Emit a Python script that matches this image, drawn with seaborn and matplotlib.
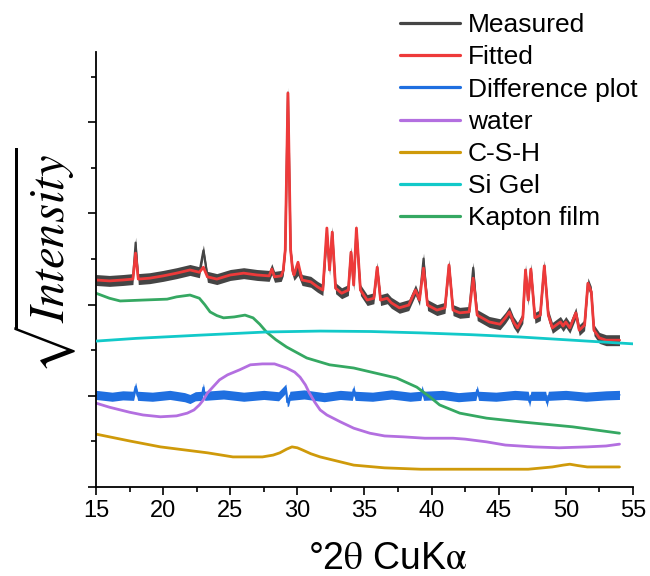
import matplotlib
matplotlib.use("Agg")
import matplotlib.pyplot as plt
import seaborn as sns
import numpy as np

# ---- data: diffraction angle (deg 2theta) and square-root intensity (arb. units) ----
two_theta = [15.0, 16.0, 17.0, 17.75, 17.95, 18.15, 19.0, 20.0, 21.0, 22.0, 22.7, 23.0, 23.3,
             24.0, 25.0, 26.0, 27.0, 27.9, 28.1, 28.3, 28.8, 28.95, 29.1, 29.3, 29.5, 29.65,
             29.75, 30.05, 30.35, 31.0, 31.5, 31.9, 32.2, 32.4, 32.6, 32.85, 33.3, 33.8, 34.0,
             34.2, 34.4, 34.7, 35.2, 35.7, 35.95, 36.2, 36.7, 37.0, 37.6, 38.3, 38.8, 39.1,
             39.4, 39.7, 40.4, 41.0, 41.3, 41.6, 42.1, 42.8, 43.1, 43.4, 44.3, 45.1, 45.5,
             45.8, 46.1, 46.4, 46.8, 47.0, 47.2, 47.4, 47.7, 48.1, 48.4, 48.7, 49.0, 49.6,
             49.8, 50.0, 50.3, 50.75, 51.0, 51.4, 51.65, 51.9, 52.1, 52.5, 53.0, 53.5, 54.0]

fitted = [45.4, 45.2, 45.4, 45.6, 51.3, 45.6, 45.8, 46.3, 46.9, 47.6, 47.1, 48.2, 46.1,
          45.6, 46.5, 46.9, 46.5, 46.3, 47.8, 46.1, 46.3, 47.5, 52.0, 86.4, 52.0, 47.5,
          46.5, 49.3, 45.4, 45.0, 43.9, 43.2, 56.8, 47.6, 55.9, 43.6, 42.5, 43.2, 51.5,
          44.3, 56.8, 43.2, 41.0, 41.4, 48.2, 41.0, 41.4, 40.4, 39.3, 39.9, 43.2, 41.0,
          48.0, 39.9, 38.8, 39.3, 48.7, 38.8, 38.2, 38.4, 45.8, 37.7, 36.2, 35.7, 37.1,
          38.4, 36.2, 34.9, 37.1, 47.6, 41.0, 47.8, 37.1, 37.7, 48.5, 37.7, 34.9, 36.2,
          35.3, 36.2, 34.9, 38.2, 34.4, 35.5, 44.7, 42.8, 34.4, 32.7, 32.2, 32.2, 32.2]

measured = [45.4, 45.2, 45.4, 45.6, 53.6, 45.6, 45.8, 46.3, 46.9, 47.6, 47.1, 51.9, 46.1,
            45.6, 46.5, 46.9, 46.5, 46.3, 47.8, 46.1, 46.3, 47.5, 52.0, 86.5, 52.0, 47.5,
            46.5, 47.6, 45.4, 45.0, 43.9, 43.2, 55.6, 47.6, 55.9, 43.6, 42.5, 43.2, 51.5,
            44.3, 56.3, 43.2, 41.0, 41.4, 48.1, 41.0, 41.4, 40.4, 39.3, 39.9, 43.2, 41.0,
            50.1, 39.9, 38.8, 39.3, 48.7, 38.8, 38.2, 38.4, 48.1, 37.7, 36.2, 35.7, 37.1,
            38.4, 36.2, 34.9, 37.1, 47.6, 41.0, 47.8, 37.1, 37.7, 48.5, 37.7, 34.9, 36.2,
            35.3, 36.2, 34.9, 38.2, 34.4, 35.5, 44.7, 42.8, 34.4, 32.7, 32.2, 32.2, 32.2]

diff_theta = [15.0, 16.2, 17.0, 17.8, 17.95, 18.1, 19.2, 20.5, 21.6, 22.0, 22.4, 22.9, 23.0,
              23.1, 24.5, 26.0, 27.5, 28.6, 29.15, 29.25, 29.35, 29.45, 30.5, 32.0, 33.2,
              34.1, 34.2, 34.3, 35.6, 37.0, 38.4, 39.2, 39.3, 39.4, 40.8, 42.0, 43.3, 43.4,
              43.5, 44.8, 46.2, 47.2, 47.3, 47.4, 48.5, 48.6, 48.7, 50.0, 51.5, 53.0, 54.0]
difference = [20.2, 19.8, 20.1, 20.0, 22.0, 20.0, 19.8, 20.2, 19.7, 19.3, 19.9, 20.0, 21.8,
              20.0, 20.3, 19.8, 20.2, 19.9, 21.6, 18.6, 18.8, 20.0, 20.3, 19.7, 20.2,
              20.0, 21.4, 20.0, 19.8, 20.3, 19.8, 20.0, 21.3, 20.0, 20.2, 19.7, 20.0, 21.3,
              20.0, 19.8, 20.2, 20.0, 18.6, 20.0, 20.0, 18.5, 20.0, 20.2, 19.8, 20.1, 20.2]

water_theta = [15.0, 16.0, 17.5, 18.5, 19.8, 21.0, 21.8, 22.3, 22.7, 23.0, 23.3, 23.7, 24.2,
               24.8, 25.7, 26.5, 27.4, 28.3, 29.2, 29.8, 30.2, 30.6, 30.9, 31.3, 31.7, 32.2,
               33.2, 34.2, 35.4, 36.5, 37.9, 39.5, 41.6, 42.5, 44.1, 45.5, 47.6, 49.5, 51.6,
               53.0, 54.0]
water = [18.4, 17.5, 16.4, 15.8, 15.4, 15.6, 16.2, 16.9, 18.0, 19.1, 20.6, 21.9, 23.5,
         24.6, 25.7, 26.8, 27.0, 27.0, 26.1, 25.2, 24.1, 22.4, 20.6, 18.6, 16.9, 15.8,
         14.3, 12.9, 11.8, 11.2, 11.0, 10.7, 10.7, 10.5, 9.9, 9.2, 8.8, 8.6, 8.8,
         9.0, 9.4]

csh_theta = [15.0, 17.5, 19.8, 23.3, 25.2, 27.4, 28.2, 28.7, 29.2, 29.6, 30.0, 30.4, 31.0,
             31.7, 34.2, 36.5, 39.2, 41.6, 44.0, 47.2, 49.0, 49.8, 50.3, 50.9, 51.6, 54.0]
csh = [11.6, 10.1, 8.8, 7.5, 6.6, 6.6, 7.0, 7.5, 8.3, 8.8, 8.6, 8.1, 7.3,
       6.6, 4.8, 4.2, 3.9, 3.9, 3.9, 3.9, 4.4, 4.8, 5.0, 4.7, 4.4, 4.4]

sigel_theta = [15.0, 18.0, 22.7, 27.7, 31.7, 35.5, 39.2, 43.0, 46.6, 51.6, 55.0]
sigel = [32.0, 32.6, 33.3, 34.0, 34.2, 34.1, 33.8, 33.4, 32.9, 32.0, 31.4]

kapton_theta = [15.0, 16.0, 16.8, 18.5, 20.3, 21.0, 22.0, 22.7, 23.1, 23.5, 24.0, 24.5,
                25.3, 26.1, 26.7, 27.2, 27.7, 28.4, 29.2, 30.7, 32.4, 34.2, 37.4, 38.9,
                39.9, 40.6, 42.1, 44.1, 46.6, 50.5, 54.0]
kapton = [42.5, 41.4, 40.8, 41.0, 41.2, 41.7, 42.1, 41.4, 40.0, 38.4, 37.6, 37.1,
          37.3, 37.7, 37.1, 35.7, 34.0, 32.3, 30.7, 28.3, 26.8, 26.1, 23.9, 21.9,
          19.7, 18.0, 16.2, 15.1, 14.3, 13.2, 11.8]

x_ticks = [15, 20, 25, 30, 35, 40, 45, 50, 55]

# ---- style ----
sns.set_theme(style="ticks")
plt.rcParams["font.family"] = ["Liberation Sans", "DejaVu Sans"]
plt.rcParams["mathtext.fontset"] = "stix"
plt.rcParams["text.color"] = "black"

fig = plt.figure(figsize=(6.5, 5.76), dpi=100)
ax = fig.add_axes([0.1477, 0.1545, 0.826, 0.7552])

colors = {
    "Measured": "#454545",
    "Fitted": "#ee3a3a",
    "Difference plot": "#1f6fe0",
    "water": "#b36fe0",
    "C-S-H": "#cf9a0a",
    "Si Gel": "#12c9c9",
    "Kapton film": "#35a862",
}

# noisy measured pattern drawn as a narrow band around its trace
ax.fill_between(two_theta, np.array(measured) - 1.2, np.array(measured) + 1.2,
                color=colors["Measured"], lw=0, zorder=1.9)
sns.lineplot(x=two_theta, y=measured, ax=ax, color=colors["Measured"], lw=1.5,
             label="Measured", zorder=2.0)
sns.lineplot(x=two_theta, y=fitted, ax=ax, color=colors["Fitted"], lw=2.0,
             label="Fitted", zorder=2.1)
ax.fill_between(diff_theta, np.array(difference) - 1.0, np.array(difference) + 1.0,
                color=colors["Difference plot"], lw=0, zorder=2.15)
sns.lineplot(x=diff_theta, y=difference, ax=ax, color=colors["Difference plot"], lw=1.5,
             label="Difference plot", zorder=2.2)
sns.lineplot(x=water_theta, y=water, ax=ax, color=colors["water"], lw=2.0,
             label="water", zorder=2.3)
sns.lineplot(x=csh_theta, y=csh, ax=ax, color=colors["C-S-H"], lw=2.0,
             label="C-S-H", zorder=2.4)
sns.lineplot(x=sigel_theta, y=sigel, ax=ax, color=colors["Si Gel"], lw=2.0,
             label="Si Gel", zorder=2.6)
sns.lineplot(x=kapton_theta, y=kapton, ax=ax, color=colors["Kapton film"], lw=2.0,
             label="Kapton film", zorder=2.5)

# ---- axes ----
ax.set_xlim(15, 55)
ax.set_ylim(0, 95.4)
ax.set_xticks(x_ticks)
ax.set_xticks([t + 2.5 for t in x_ticks[:-1]], minor=True)
ax.set_yticks([0, 20, 40, 60, 80])
ax.set_yticks([10, 30, 50, 70, 90], minor=True)
ax.set_yticklabels([])
ax.tick_params(axis="both", which="major", direction="out", length=6, width=1.2,
               color="black", labelsize=17, pad=3, labelcolor="black")
ax.tick_params(axis="both", which="minor", direction="out", length=3.5, width=1.2,
               color="black")
for side in ("top", "right"):
    ax.spines[side].set_visible(False)
for side in ("left", "bottom"):
    ax.spines[side].set_linewidth(1.3)
    ax.spines[side].set_color("black")

ax.set_xlabel(r"°2$\mathrm{\theta}$ CuK$\mathrm{\alpha}$", fontsize=27, color="black")
ax.xaxis.set_label_coords(0.544, -0.125)
ax.set_ylabel(r"$\sqrt{Intensity}$", fontsize=35, color="black")
ax.yaxis.set_label_coords(-0.032, 0.52)

leg = ax.legend(loc="upper left", bbox_to_anchor=(0.615, 0.977),
                bbox_transform=fig.transFigure, frameon=False, fontsize=19,
                handlelength=2.3, handletextpad=0.27, labelspacing=0.31,
                borderpad=0, borderaxespad=0)
for h in leg.get_lines():
    h.set_linewidth(2.3)
for t in leg.get_texts():
    t.set_color("black")

fig.savefig("out.png", dpi=100, facecolor="white")
